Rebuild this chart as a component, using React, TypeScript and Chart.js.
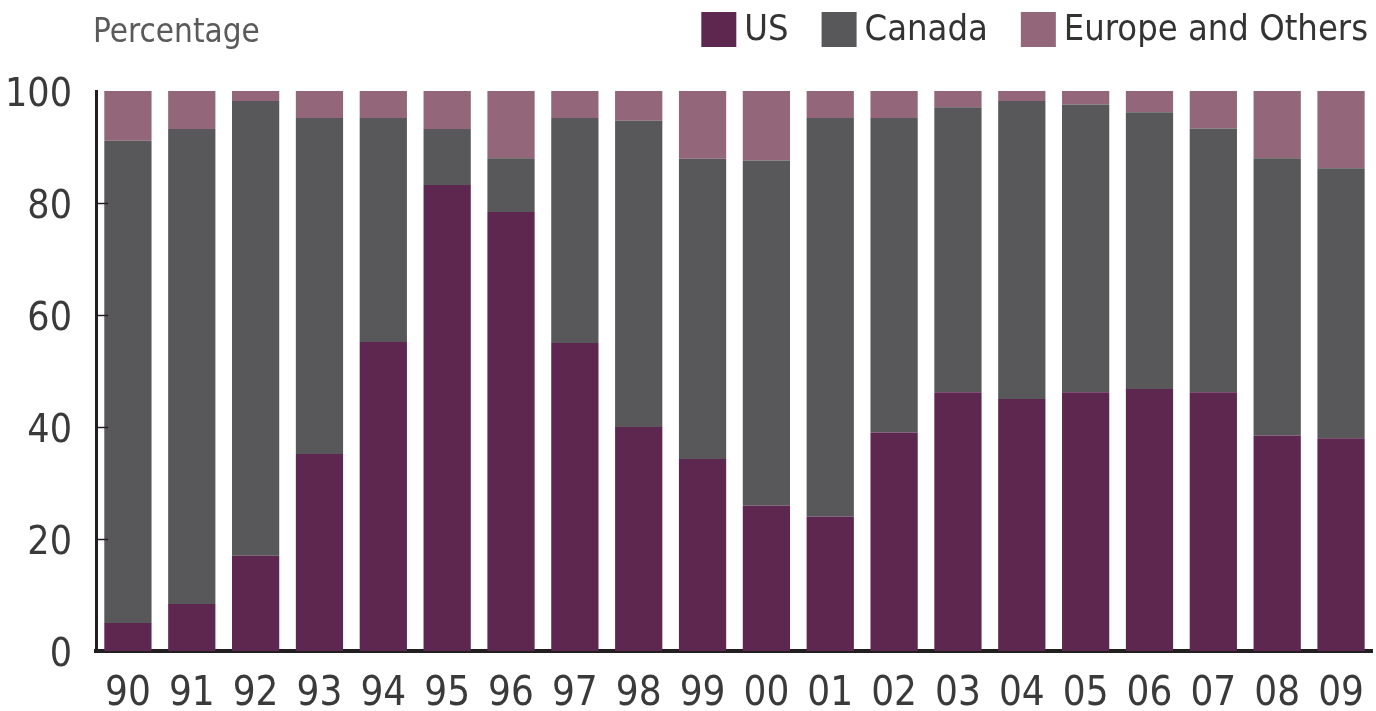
import React, { useEffect, useRef } from "react";
import { Chart, registerables } from "chart.js";

Chart.register(...registerables);

const years = ["90", "91", "92", "93", "94", "95", "96", "97", "98", "99", "00", "01", "02", "03", "04", "05", "06", "07", "08", "09"];
const usShare = [5, 8.4, 17, 35.2, 55.2, 83.2, 78.4, 55, 40, 34.3, 26, 24, 39, 46.2, 45, 46.2, 46.8, 46.2, 38.5, 38];
const canadaShare = [86.1, 84.8, 81.2, 60, 40, 10, 9.6, 40.2, 54.7, 53.6, 61.6, 71.2, 56.2, 50.9, 53.2, 51.4, 49.4, 47.1, 49.5, 48.2];
const europeShare = [8.9, 6.8, 1.8, 4.8, 4.8, 6.8, 12, 4.8, 5.3, 12.1, 12.4, 4.8, 4.8, 2.9, 1.8, 2.4, 3.8, 6.7, 12, 13.8];
const seriesNames = ["US", "Canada", "Europe and Others"];
const seriesColors = ["#5e2750", "#58585a", "#93667a"];
const yAxisTitle = "Percentage";

const FONT = "'Liberation Sans Narrow', 'DejaVu Sans Condensed', 'Liberation Sans', sans-serif";

const headerPlugin = {
  id: "header",
  afterDraw(chart: any) {
    const ctx = chart.ctx;
    ctx.save();
    ctx.textBaseline = "middle";
    ctx.font = `33px ${FONT}`;
    ctx.fillStyle = "#5a5a5a";
    ctx.textAlign = "left";
    ctx.fillText(yAxisTitle, 93, 33);

    ctx.font = `36px ${FONT}`;
    const box = 35;
    const boxGap = 8;
    const itemGap = 33;
    let x = 1368;
    const items: { bx: number; tx: number; name: string; color: string }[] = [];
    for (let i = seriesNames.length - 1; i >= 0; i--) {
      const w = ctx.measureText(seriesNames[i]).width;
      const tx = x - w;
      const bx = tx - boxGap - box;
      items.push({ bx, tx, name: seriesNames[i], color: seriesColors[i] });
      x = bx - itemGap;
    }
    for (const it of items) {
      ctx.fillStyle = it.color;
      ctx.fillRect(it.bx, 12, box, box);
      ctx.fillStyle = "#333333";
      ctx.fillText(it.name, it.tx, 31);
    }

    // short inward tick marks on the value axis
    const y = chart.scales.y;
    const left = chart.chartArea.left;
    ctx.strokeStyle = "#231f20";
    ctx.lineWidth = 1.5;
    for (const t of y.ticks) {
      if (t.value === 0 || t.value === 100) continue;
      const py = Math.round(y.getPixelForValue(t.value)) + 0.5;
      ctx.beginPath();
      ctx.moveTo(left, py);
      ctx.lineTo(left + 12, py);
      ctx.stroke();
    }
    ctx.restore();
  },
};

export default function App() {
  const ref = useRef<HTMLCanvasElement>(null);
  useEffect(() => {
    if (!ref.current) return;
    const chart = new Chart(ref.current, {
      type: "bar",
      data: {
        labels: years,
        datasets: [
          { label: seriesNames[0], data: usShare, backgroundColor: seriesColors[0] },
          { label: seriesNames[1], data: canadaShare, backgroundColor: seriesColors[1] },
          { label: seriesNames[2], data: europeShare, backgroundColor: seriesColors[2] },
        ],
      },
      options: {
        animation: false,
        responsive: false,
        maintainAspectRatio: false,
        datasets: { bar: { barPercentage: 0.74, categoryPercentage: 1 } },
        layout: { padding: { top: 91, right: 3, left: 0, bottom: 0 } },
        plugins: { legend: { display: false }, tooltip: { enabled: false } },
        scales: {
          x: {
            stacked: true,
            grid: { display: false },
            border: { display: true, color: "#231f20", width: 4 },
            ticks: { color: "#3a3a3a", font: { family: FONT, size: 40 }, padding: 12 },
            afterFit(s: any) { s.height = 60; },
          },
          y: {
            stacked: true,
            min: 0,
            max: 100,
            grid: { display: false },
            border: { display: true, color: "#231f20", width: 3 },
            ticks: { stepSize: 20, color: "#3a3a3a", font: { family: FONT, size: 39 }, padding: 16, labelOffset: 5 },
            afterFit(s: any) { s.width = 96; },
          },
        },
      },
      plugins: [headerPlugin],
    });
    return () => chart.destroy();
  }, []);
  return (
    <div style={{ position: "fixed", left: 0, top: 0, width: 1376, height: 711, background: "#fff" }}>
      <canvas ref={ref} width={1376} height={711} style={{ width: 1376, height: 711 }} />
    </div>
  );
}
